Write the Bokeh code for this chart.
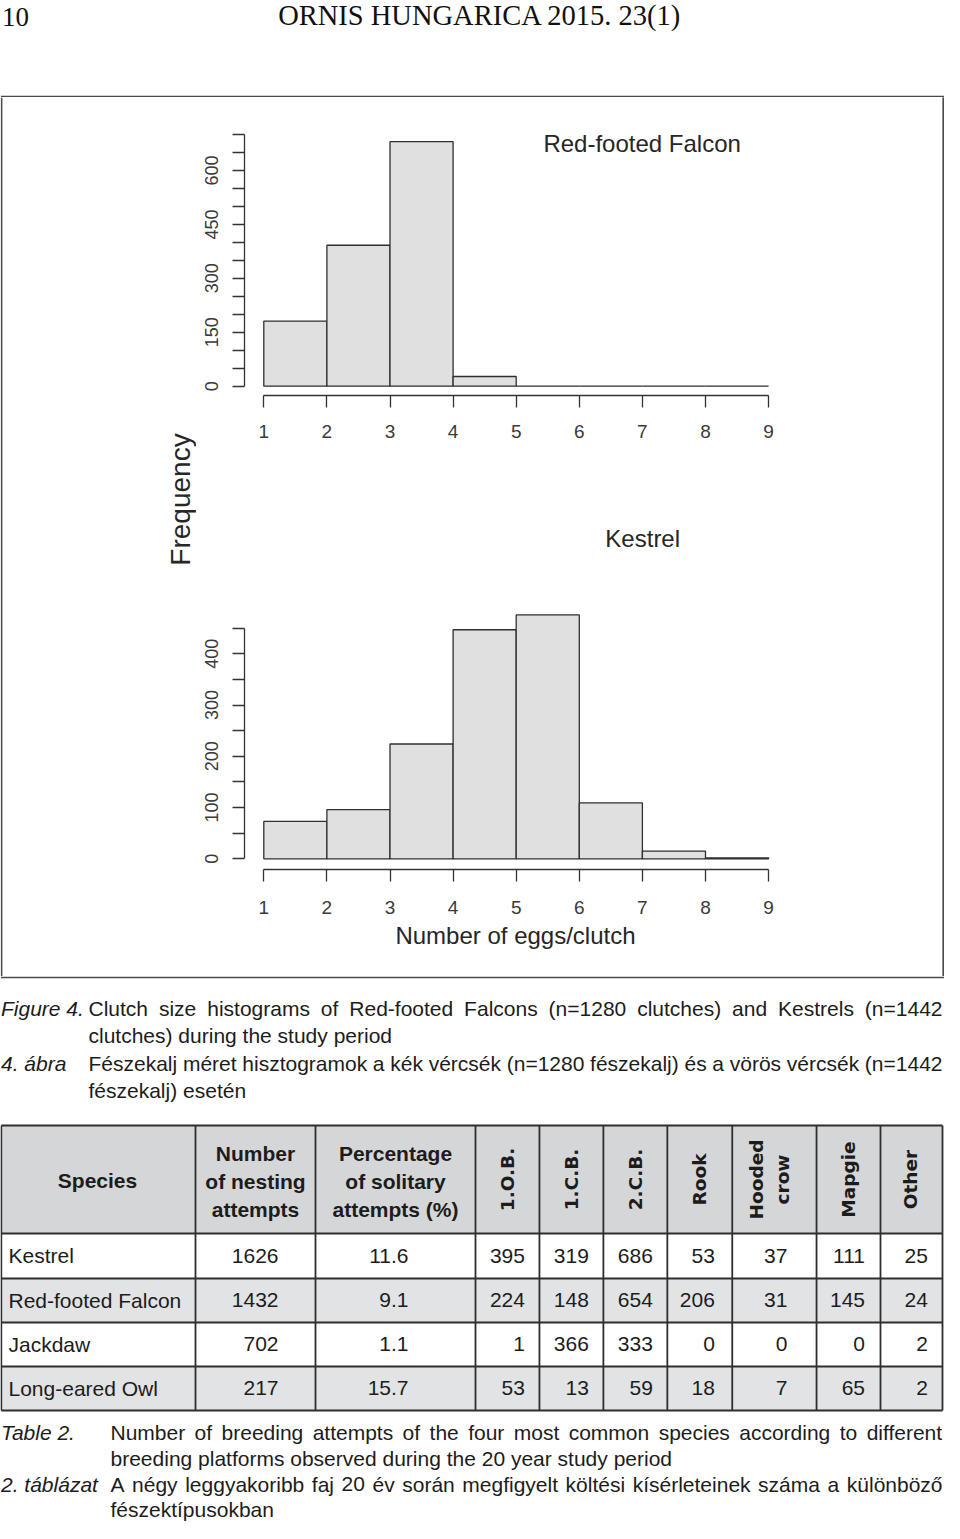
from bokeh.plotting import figure
from bokeh.models import Range1d, FixedTicker
from bokeh.layouts import column, row
from bokeh.embed import file_html
from bokeh.resources import INLINE
from bokeh.core.properties import value

# ---------------- data ----------------
egg_bin_edges = [1, 2, 3, 4, 5, 6, 7, 8, 9]
red_footed_counts = [181, 392, 680, 27, 0, 0, 0, 0]
kestrel_counts = [73, 96, 224, 447, 476, 109, 15, 2]
egg_ticks = [1, 2, 3, 4, 5, 6, 7, 8, 9]
rff_y_ticks = [0, 50, 100, 150, 200, 250, 300, 350, 400, 450, 500, 550, 600, 650, 700]
rff_y_labelled = [0, 150, 300, 450, 600]
kes_y_ticks = [0, 50, 100, 150, 200, 250, 300, 350, 400, 450]
kes_y_labelled = [0, 100, 200, 300, 400]

table_species = ["Kestrel", "Red-footed Falcon", "Jackdaw", "Long-eared Owl"]
nesting_attempts = ["1626", "1432", "702", "217"]
solitary_percent = ["11.6", "9.1", "1.1", "15.7"]
count_1ob = [395, 224, 1, 53]
count_1cb = [319, 148, 366, 13]
count_2cb = [686, 654, 333, 59]
count_rook = [53, 206, 0, 18]
count_hooded = [37, 31, 0, 7]
count_magpie = [111, 145, 0, 65]
count_other = [25, 24, 2, 2]
platform_headers = ["1.O.B.", "1.C.B.", "2.C.B.", "Rook", "Hooded", "crow", "Mapgie", "Other"]

page_header = "ORNIS HUNGARICA 2015. 23(1)"
page_number = "10"
fig_caption_label = ["Figure 4.", "4. ábra"]
fig_caption_lines = [
    "Clutch size histograms of Red-footed Falcons (n=1280 clutches) and Kestrels (n=1442",
    "clutches) during the study period",
    "Fészekalj méret hisztogramok a kék vércsék (n=1280 fészekalj) és a vörös vércsék (n=1442",
    "fészekalj) esetén",
]
tab_caption_label = ["Table 2.", "2. táblázat"]
tab_caption_lines = [
    "Number of breeding attempts of the four most common species according to different",
    "breeding platforms observed during the 20 year study period",
    "A négy leggyakoribb faj 20 év során megfigyelt költési kísérleteinek száma a különböző",
    "fészektípusokban",
]

# ---------------- geometry (page px) ----------------
W = 944
OFF = 0.37           # em shift of the alphabetic baseline seen in the svg output
SANS = "Liberation Sans"
INK = "#1c1c1c"
BOX = "#4a4a4a"
RIGHT = 942.0        # right edge of box and table on the page


def PX(x):
    # keep the left part 1:1, squeeze the right part so that x=957 lands on RIGHT
    return x if x <= 475 else 475 + (x - 475) * (RIGHT - 475) / (957 - 475)


ARIAL = {' ': 278, '(': 333, ')': 333, '=': 584, '.': 278, ',': 278, '-': 333, '/': 278,
         'a': 556, 'b': 556, 'c': 500, 'd': 556, 'e': 556, 'f': 278, 'g': 556, 'h': 556,
         'i': 222, 'j': 222, 'k': 500, 'l': 222, 'm': 833, 'n': 556, 'o': 556, 'p': 556,
         'q': 556, 'r': 333, 's': 500, 't': 278, 'u': 556, 'v': 500, 'w': 722, 'x': 500,
         'y': 500, 'z': 500, 'A': 667, 'B': 667, 'C': 722, 'D': 722, 'E': 667, 'F': 611,
         'G': 778, 'H': 722, 'I': 278, 'J': 500, 'K': 667, 'L': 556, 'M': 833, 'N': 722,
         'O': 778, 'P': 667, 'R': 722, 'S': 667, 'T': 611, 'U': 722, 'V': 667, 'W': 944,
         'é': 556, 'á': 556, 'ö': 556, 'ő': 556, 'ü': 556, 'ű': 556, 'ó': 556, 'ú': 556,
         'í': 278}


def aw(s):
    return sum(ARIAL.get(ch, 556) for ch in s) / 1000.0


def by(base, size):
    return base - OFF * size


def canvas(w, h, x0, x1, y0, y1):
    p = figure(width=w, height=h, x_range=Range1d(x0, x1), y_range=Range1d(y1, y0),
               output_backend="svg", toolbar_location=None,
               x_axis_location=None, y_axis_location=None, min_border=0)
    p.grid.visible = False
    p.outline_line_color = None
    return p


Y_BOX_TOP = 97
Y_SPLIT = 470
Y_BOX_BOT = 976
H_HDR = Y_BOX_TOP
H_H1 = Y_SPLIT - Y_BOX_TOP
H_H2 = Y_BOX_BOT - Y_SPLIT
H_BOT = 1523 - Y_BOX_BOT
LEFT_W = 196
HIST_W = int(RIGHT) - LEFT_W
MB_LEFT = 48

# ---------------- header ----------------
hdr = canvas(W, H_HDR, 0, W, 0, H_HDR)
hdr.text(x=[1.5], y=[by(26, 27)], text=[page_number], text_font=value("Liberation Serif"),
         text_font_size="27px", text_align="left", text_baseline="alphabetic", text_color="#111111")
hdr.text(x=[479.5], y=[by(26, 28.5)], text=[page_header], text_font=value("Liberation Serif"),
         text_font_size="28.5px", text_align="center", text_baseline="alphabetic",
         text_color="#111111")
hdr.quad(left=[0.3], right=[RIGHT + 1.5], top=[95.3], bottom=[97.0], fill_color=BOX, line_color=None)

# ---------------- left strip with Frequency ----------------
lf = canvas(LEFT_W, H_H1 + H_H2, 0, LEFT_W, Y_BOX_TOP, Y_BOX_BOT)
lf.quad(left=[0.3], right=[1.9], top=[Y_BOX_TOP], bottom=[Y_BOX_BOT], fill_color=BOX, line_color=None)
lf.text(x=[190.3 - OFF * 28], y=[499], text=["Frequency"], angle=[1.5707963],
        text_font=value(SANS), text_font_size="28px", text_align="center",
        text_baseline="alphabetic", text_color="#262626")

# ---------------- histograms ----------------
X1_REF, X9_REF = 263.3, 768.1
x_ppu = (X9_REF - X1_REF) / 8.0
frame_left = LEFT_W + MB_LEFT
frame_right = 2 * 515.0 - frame_left      # centre the x-axis title as in the original
MB_RIGHT = int(round(LEFT_W + HIST_W - frame_right))
frame_right = LEFT_W + HIST_W - MB_RIGHT
x_start = 1 - (X1_REF - frame_left) / x_ppu
x_end = 9 + (frame_right - X9_REF) / x_ppu


def xval(xref):
    return 1 + (xref - X1_REF) / x_ppu


def hist(counts, top_page, h, axis_y, zero_y, tmax_y, tmax_val, yticks, ylab,
         title, title_pos, xstandoff, xlabel=None):
    mb = int(round(top_page + h - axis_y))
    frame_bottom = top_page + h - mb
    ppu = (zero_y - tmax_y) / tmax_val
    y_start = -(frame_bottom - zero_y) / ppu
    y_end = (zero_y - top_page) / ppu
    p = figure(width=HIST_W, height=h, x_range=Range1d(x_start, x_end),
               y_range=Range1d(y_start, y_end), output_backend="svg", toolbar_location=None,
               min_border_left=MB_LEFT, min_border_right=MB_RIGHT, min_border_top=0,
               min_border_bottom=mb)
    p.grid.visible = False
    p.outline_line_color = None
    p.quad(left=egg_bin_edges[:-1], right=egg_bin_edges[1:], bottom=0, top=counts,
           fill_color="#e0e0e0", line_color="#2f2f2f", line_width=1.3)
    p.xaxis.ticker = FixedTicker(ticks=egg_ticks)
    p.xaxis.bounds = (1, 9)
    p.yaxis.ticker = FixedTicker(ticks=yticks)
    p.yaxis.bounds = (0, yticks[-1])
    p.yaxis.major_label_overrides = {t: (str(t) if t in ylab else "") for t in yticks}
    p.yaxis.major_label_orientation = "vertical"
    p.axis.minor_tick_line_color = None
    p.axis.major_tick_in = 0
    p.axis.major_tick_out = 12
    p.axis.axis_line_color = "#333333"
    p.axis.major_tick_line_color = "#333333"
    p.axis.axis_line_width = 1.3
    p.axis.major_tick_line_width = 1.3
    p.axis.major_label_text_font = SANS
    p.axis.major_label_text_color = "#3a3a3a"
    p.xaxis.major_label_text_font_size = "19px"
    p.yaxis.major_label_text_font_size = "18px"
    p.xaxis.major_label_standoff = xstandoff
    p.yaxis.major_label_standoff = 14
    if xlabel:
        p.xaxis.axis_label = xlabel
        p.xaxis.axis_label_text_font = SANS
        p.xaxis.axis_label_text_font_style = "normal"
        p.xaxis.axis_label_text_font_size = "24px"
        p.xaxis.axis_label_text_color = "#262626"
        p.xaxis.axis_label_standoff = 5
    tx, ty = title_pos
    p.text(x=[xval(tx)], y=[(zero_y - by(ty, 24)) / ppu], text=[title],
           text_font=value(SANS), text_font_size="24px", text_align="center",
           text_baseline="alphabetic", text_color="#262626")
    return p


h1 = hist(red_footed_counts, Y_BOX_TOP, H_H1, 395, 385.7, 134, 700, rff_y_ticks, rff_y_labelled,
          "Red-footed Falcon", (641.6, 151.7), 17)
h2 = hist(kestrel_counts, Y_SPLIT, H_H2, 869, 858.3, 627.7, 450, kes_y_ticks, kes_y_labelled,
          "Kestrel", (642.2, 546.7), 19, xlabel="Number of eggs/clutch")

re_ = canvas(2, H_H1 + H_H2, 0, 1, 0, 1)
re_.background_fill_color = BOX
re_.border_fill_color = BOX
re_.quad(left=[0], right=[1], top=[0], bottom=[1], fill_color=BOX, line_color=None)

# ---------------- bottom: captions and table ----------------
bt = canvas(W, H_BOT, 0, W, Y_BOX_BOT, 1523)
bt.quad(left=[0.3], right=[RIGHT + 1.5], top=[Y_BOX_BOT], bottom=[Y_BOX_BOT + 1.7], fill_color=BOX,
        line_color=None)

CAP = 21


def cap_line(text, x0, x1, base, justify):
    y = by(base, CAP)
    kw = dict(text_font=value(SANS), text_font_size="%dpx" % CAP, text_align="left",
              text_baseline="alphabetic", text_color=INK)
    if not justify:
        bt.text(x=[x0], y=[y], text=[text], **kw)
        return
    words = text.split(" ")
    widths = [aw(w) * CAP for w in words]
    gap = (x1 - x0 - sum(widths)) / (len(words) - 1)
    xs, cur = [], x0
    for wd in widths:
        xs.append(cur)
        cur += wd + gap
    bt.text(x=xs, y=[y] * len(words), text=words, **kw)


def caption(labels, lines, x_text, bases):
    bt.text(x=[0.5, 0.5], y=[by(bases[0], CAP), by(bases[2], CAP)], text=labels,
            text_font=value(SANS), text_font_style="italic", text_font_size="%dpx" % CAP,
            text_align="left", text_baseline="alphabetic", text_color=INK)
    for i, (ln, b) in enumerate(zip(lines, bases)):
        cap_line(ln, x_text, RIGHT, b, justify=(i % 2 == 0))


caption(fig_caption_label, fig_caption_lines, 88, [1015.5, 1042.9, 1070.3, 1097.7])
caption(tab_caption_label, tab_caption_lines, 110, [1439.5, 1465.5, 1491.5, 1517])

# table
col_edges = [PX(x) for x in [0.8, 195, 315, 475, 541, 607, 673, 740, 827, 893, 957]]
row_edges = [1125, 1233, 1278, 1322, 1366, 1410]
bt.quad(left=[0.8], right=[RIGHT], top=[row_edges[0]], bottom=[row_edges[1]],
        fill_color="#d5d6d8", line_color=None)
bt.quad(left=[0.8] * 4, right=[RIGHT] * 4, top=row_edges[1:-1], bottom=row_edges[2:],
        fill_color=["#ffffff", "#e2e3e4", "#ffffff", "#e2e3e4"], line_color=None)
bt.segment(x0=[0.8] * len(row_edges), x1=[RIGHT] * len(row_edges), y0=row_edges, y1=row_edges,
           line_color="#2e2e2e", line_width=1.8)
bt.segment(x0=col_edges, x1=col_edges, y0=[row_edges[0]] * len(col_edges),
           y1=[row_edges[-1]] * len(col_edges), line_color="#2e2e2e", line_width=1.8)

HS = 21
HB = dict(text_font=value(SANS), text_font_style="bold", text_font_size="%dpx" % HS,
          text_align="center", text_baseline="alphabetic", text_color=INK)
hb = [by(b, HS) for b in [1160.5, 1188.5, 1216.5]]
bt.text(x=[97], y=[by(1187.5, HS)], text=["Species"], **HB)
bt.text(x=[255] * 3, y=hb, text=["Number", "of nesting", "attempts"], **HB)
bt.text(x=[395] * 3, y=hb, text=["Percentage", "of solitary", "attempts (%)"], **HB)

RS = 18.5
rot_centres = [508, 574, 640, 706, 765, 794, 860, 924.5]
rot_half = [0.729 * RS / 2] * 5 + [0.547 * RS / 2] + [0.729 * RS / 2] * 2
rot_x = [PX(c) + hh - OFF * RS for c, hh in zip(rot_centres, rot_half)]
bt.text(x=rot_x, y=[1179] * len(rot_x), text=platform_headers, angle=[1.5707963] * len(rot_x),
        text_font=value("DejaVu Sans"), text_font_style="bold", text_font_size="%.1fpx" % RS,
        text_align="center", text_baseline="alphabetic", text_color=INK)

CS = 21
row_base = [by(b, CS) for b in [1263, 1307.5, 1351.5, 1395.5]]
CELL = dict(text_font=value(SANS), text_font_size="%dpx" % CS, text_baseline="alphabetic",
            text_color=INK)
bt.text(x=[8] * 4, y=row_base, text=table_species, text_align="left", **CELL)
bt.text(x=[278] * 4, y=row_base, text=nesting_attempts, text_align="right", **CELL)
bt.text(x=[408] * 4, y=row_base, text=solitary_percent, text_align="right", **CELL)
right_edges = [526, 592, 658, 722, 797, 877, 942]
for rx, vals in zip(right_edges, [count_1ob, count_1cb, count_2cb, count_rook, count_hooded,
                                  count_magpie, count_other]):
    bt.text(x=[PX(rx)] * 4, y=row_base, text=[str(v) for v in vals], text_align="right", **CELL)

layout = column(hdr, row(lf, column(h1, h2), re_), bt)
open("out.html", "w").write(file_html(layout, INLINE))
